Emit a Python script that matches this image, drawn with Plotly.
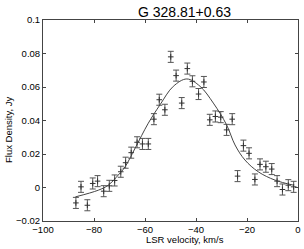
import plotly.graph_objects as go

velocity = [-87.1, -85.1, -82.6, -80.5, -78.6, -76.2, -74.0, -71.9, -69.5, -67.6,
            -65.4, -63.1, -61.0, -58.7, -56.5, -54.4, -52.2, -49.9, -47.8, -45.6,
            -43.4, -41.4, -39.0, -36.9, -34.6, -32.4, -30.3, -28.0, -25.8, -23.7,
            -21.4, -19.2, -16.9, -14.9, -12.6, -10.3, -8.2, -6.1, -3.8, -1.7]
flux = [-0.0092, 0.0004, -0.0106, 0.0024, 0.0038, -0.0022, 0.0010, 0.0042, 0.0094, 0.0148,
        0.0208, 0.0270, 0.0260, 0.0260, 0.0408, 0.0524, 0.0464, 0.0780, 0.0668, 0.0504,
        0.0710, 0.0634, 0.0558, 0.0630, 0.0404, 0.0424, 0.0420, 0.0344, 0.0408, 0.0068,
        0.0250, 0.0204, 0.0048, 0.0138, 0.0124, 0.0110, 0.0038, -0.0012, 0.0014, 0.0004]
flux_err = [0.0033] * len(flux)

fit_velocity = [-87.3, -78.3, -74.4, -70.5, -67.8, -63.9, -58.7, -54.1, -48.9, -43.6,
                -38.4, -33.2, -28.0, -24.7, -20.8, -15.6, -9.0, -1.8]
fit_flux = [-0.0056, -0.0016, 0.0014, 0.0074, 0.0124, 0.0234, 0.0384, 0.0494, 0.0604, 0.0648,
            0.0604, 0.0504, 0.0374, 0.0254, 0.0164, 0.0094, 0.0044, 0.0014]

x_ticks = [-100, -80, -60, -40, -20, 0]
x_ticktext = ["\u2212100", "\u221280", "\u221260", "\u221240", "\u221220", "0"]
y_ticks = [-0.02, 0, 0.02, 0.04, 0.06, 0.08, 0.1]
y_ticktext = ["\u22120.02", "0", "0.02", "0.04", "0.06", "0.08", "0.1"]

fig = go.Figure()
fig.add_trace(go.Scatter(
    x=velocity, y=flux, mode="markers",
    marker=dict(symbol="cross-thin", size=4, line=dict(width=1, color="#333333"), color="#333333"),
    error_y=dict(type="data", array=flux_err, visible=True, color="#555555", thickness=1, width=3),
    showlegend=False,
))
fig.add_trace(go.Scatter(
    x=fit_velocity, y=fit_flux, mode="lines", line=dict(color="#444444", width=1, shape="spline"),
    showlegend=False,
))

font = "Liberation Sans, Arial, sans-serif"
W, H = 304, 249
L, R, T, B = 43, 6, 20, 28
pw, ph = W - L - R, H - T - B

def px(x):
    return (x - L) / pw

def py(y):
    return (H - B - y) / ph

fig.update_layout(
    width=W, height=H,
    margin=dict(l=L, r=R, t=T, b=B, autoexpand=False),
    plot_bgcolor="white", paper_bgcolor="white",
    font=dict(family=font, size=10, color="black"),
    xaxis=dict(range=[-100, 0], tickvals=x_ticks, ticktext=x_ticktext, ticks="inside", ticklen=3,
               showline=True, linecolor="#444444", linewidth=1, mirror="ticks", showgrid=False,
               zeroline=False, tickcolor="#444444", automargin=False, tickfont=dict(size=9.5)),
    yaxis=dict(range=[-0.02, 0.1], tickvals=y_ticks, ticktext=y_ticktext, ticks="inside", ticklen=3,
               showline=True, linecolor="#444444", linewidth=1, mirror="ticks", showgrid=False,
               zeroline=False, tickcolor="#444444", automargin=False, tickfont=dict(size=9.5)),
    annotations=[
        dict(text="G 328.81+0.63", x=px(184), y=py(12), xref="paper", yref="paper",
             xanchor="center", yanchor="middle", showarrow=False, font=dict(size=14)),
        dict(text="LSR velocity, km/s", x=px(185), y=py(239), xref="paper", yref="paper",
             xanchor="center", yanchor="middle", showarrow=False, font=dict(size=9.5)),
        dict(text="Flux Density, Jy", x=px(8), y=py(130), xref="paper", yref="paper",
             xanchor="center", yanchor="middle", showarrow=False, font=dict(size=9.5),
             textangle=-90),
    ],
)
fig.write_html("out.html", config={"displayModeBar": False},
               post_script="document.body.style.margin='0';document.body.style.overflow='hidden';")
